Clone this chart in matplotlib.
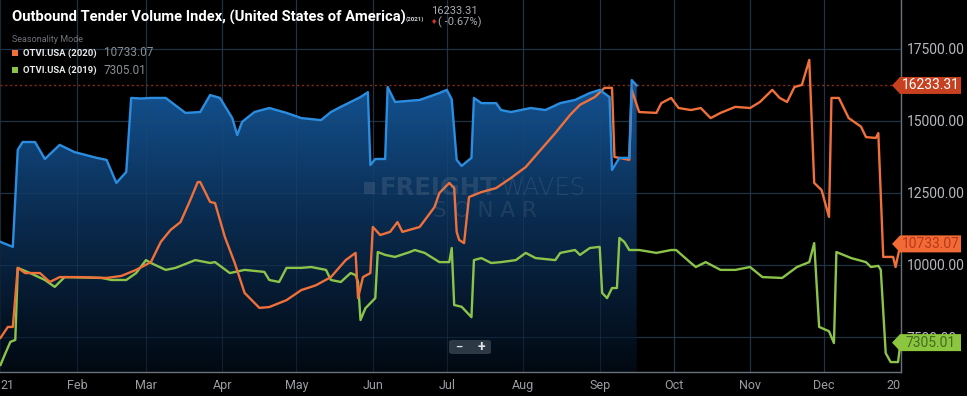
import numpy as np
import matplotlib
matplotlib.use("Agg")
import matplotlib.pyplot as plt
from matplotlib.patches import Polygon, FancyBboxPatch
from matplotlib.colors import LinearSegmentedColormap

# ---------------- data (day of year, value) ----------------
days_2021 = [0, 5, 7, 9, 14, 18, 24, 30, 39, 43, 47, 51, 53, 57, 61, 67, 75, 81, 85, 89,
             94, 96, 98, 103, 109, 116, 122, 130, 134, 138, 146, 149, 150, 152, 156, 157,
             160, 170, 178, 181, 183, 185, 187, 191, 192, 195, 201, 203, 207, 215, 221,
             227, 233, 239, 243, 247, 248, 251, 255, 256, 258]
vals_2021 = [10800, 10630, 14000, 14270, 14270, 13680, 14170, 13920, 13720, 13650, 12850,
             13230, 15800, 15780, 15800, 15800, 15280, 15310, 15900, 15800, 15100, 14510,
             14970, 15310, 15450, 15280, 15100, 15030, 15310, 15490, 15830, 16000, 13470,
             13680, 13680, 16180, 15660, 15730, 15970, 16080, 15750, 13650, 13440, 13720,
             15800, 15620, 15620, 15380, 15310, 15450, 15380, 15620, 15730, 15970, 16080,
             15830, 13300, 13720, 13720, 16420, 16233.31]

days_2020 = [0, 3, 5, 7, 10, 16, 20, 24, 32, 43, 49, 55, 61, 65, 69, 73, 77, 80, 81, 85,
             87, 91, 95, 99, 105, 109, 116, 122, 126, 128, 134, 140, 144, 145, 147, 150,
             151, 154, 158, 161, 163, 170, 176, 178, 182, 184, 185, 186, 188, 190, 195,
             201, 207, 213, 219, 225, 231, 235, 241, 245, 248, 249, 255, 256, 259, 266,
             268, 272, 275, 280, 284, 288, 292, 298, 304, 308, 313, 316, 319, 322, 325,
             328, 330, 333, 336, 337, 340, 344, 349, 351, 355, 356, 358, 362, 363, 365]
vals_2020 = [7470, 7850, 7850, 9900, 9720, 9720, 9410, 9580, 9580, 9550, 9620, 9830, 10100,
             10800, 11220, 11490, 12260, 12880, 12880, 12190, 12150, 10970, 10070, 9030,
             8510, 8540, 8780, 9130, 9240, 9300, 9580, 10170, 10420, 8850, 9580, 9720,
             11320, 11040, 11150, 11490, 11150, 11320, 12010, 12500, 12850, 12670, 11150,
             10870, 10760, 12360, 12530, 12670, 13020, 13400, 13990, 14580, 15210, 15560,
             15830, 16150, 16150, 13750, 13650, 16080, 15310, 15280, 15620, 15800, 15450,
             15380, 15450, 15100, 15280, 15490, 15450, 15660, 16080, 15800, 15660, 16180,
             16250, 17120, 12850, 12600, 11670, 15800, 15800, 15100, 14800, 14440, 14410,
             14580, 10280, 10280, 9930, 10733.07]

days_2019 = [0, 2, 4, 6, 7, 12, 18, 22, 26, 41, 45, 51, 55, 59, 61, 67, 71, 79, 85, 87, 93,
             99, 107, 109, 113, 116, 122, 126, 132, 134, 138, 142, 144, 145, 146, 148, 152,
             153, 156, 160, 166, 168, 172, 178, 182, 183, 184, 187, 191, 192, 195, 199, 203,
             209, 213, 217, 225, 227, 233, 235, 239, 243, 244, 246, 248, 250, 251, 253, 255,
             259, 266, 272, 274, 280, 282, 286, 292, 298, 304, 309, 317, 323, 328, 330, 332,
             336, 338, 339, 345, 351, 353, 356, 357, 359, 361, 364, 365]
vals_2019 = [6530, 6940, 7330, 7400, 9900, 9720, 9480, 9240, 9580, 9550, 9480, 9480, 9720,
             10170, 10070, 9830, 9900, 10170, 10070, 10100, 9720, 9830, 9760, 9480, 9410,
             9900, 9900, 9930, 9830, 9480, 9410, 9720, 9650, 9410, 8090, 8500, 8850, 10450,
             10350, 10280, 10450, 10520, 10420, 10100, 10100, 10590, 8610, 8550, 8190,
             10170, 10240, 10070, 10100, 10170, 10420, 10240, 10170, 10420, 10520, 10350,
             10590, 10630, 9030, 8850, 9200, 9200, 10940, 10800, 10520, 10520, 10420, 10520,
             10520, 10070, 9930, 10100, 9830, 9830, 9930, 9580, 9550, 9930, 10100, 10760,
             7850, 7700, 7290, 10450, 10240, 10100, 9930, 9970, 9830, 6940, 6630, 6630,
             7305.01]

month_ticks = [0, 31, 59, 90, 120, 151, 181, 212, 243, 273, 304, 334, 365]
month_labels = ["21", "Feb", "Mar", "Apr", "May", "Jun", "Jul", "Aug", "Sep", "Oct",
                "Nov", "Dec", "20"]
y_ticks = [7500, 10000, 12500, 15000, 17500]

last_2021 = 16233.31
last_2020 = 10733.07
last_2019 = 7305.01
change_pct = -0.67

# ---------------- styling ----------------
BG = "#000000"
BLUE = "#2b8de0"
ORANGE = "#f0703a"
GREEN = "#8cc44a"
GRID = "#1b2733"
W, H = 967, 396
YMIN, YMAX = 6285, 19200

plt.rcParams["font.family"] = ["Roboto", "DejaVu Sans"]
fig = plt.figure(figsize=(W / 100, H / 100), dpi=100, facecolor=BG)
ax = fig.add_axes([0, 1 - 372 / H, 901 / W, 372 / H])
ax.set_facecolor(BG)

for s in ["top", "left"]:
    ax.spines[s].set_visible(False)
for s in ["right", "bottom"]:
    ax.spines[s].set_color("#6b7178")
    ax.spines[s].set_linewidth(1)

ax.set_yticks(y_ticks)
ax.set_yticklabels([f"{v:.2f}" for v in y_ticks])
ax.yaxis.tick_right()
ax.tick_params(axis="y", length=0, pad=4, labelsize=10, labelcolor="#b5b9bd")
ax.set_xticks(month_ticks)
ax.set_xticklabels(month_labels)
ax.tick_params(axis="x", length=0, pad=5, labelsize=9, labelcolor="#9a9ea3")
xl = ax.get_xticklabels()
xl[0].set_ha("left")
xl[-1].set_ha("right")
ax.grid(True, color=GRID, linewidth=0.9, zorder=0)
ax.set_axisbelow(True)

# gradient fill under the 2021 series
cmap = LinearSegmentedColormap.from_list("g", ["#020912", "#0a2a4d", "#145596"])
grad = np.linspace(0, 1, 256).reshape(-1, 1)
im = ax.imshow(grad, extent=[days_2021[0], days_2021[-1], YMIN, 16600], origin="lower",
               aspect="auto", cmap=cmap, zorder=1, interpolation="bilinear")
verts = [(days_2021[0], YMIN)] + list(zip(days_2021, vals_2021)) + [(days_2021[-1], YMIN)]
clip = Polygon(verts, closed=True, transform=ax.transData, facecolor="none", edgecolor="none")
ax.add_patch(clip)
im.set_clip_path(clip)
ax.set_xlim(-0.2, 365.2)
ax.set_ylim(YMIN, YMAX)

# gridlines over the fill (subtle)
for yv in y_ticks:
    ax.axhline(yv, color="#2a4a6a", lw=0.8, alpha=0.35, zorder=1.5)
for xv in month_ticks[1:-1]:
    ax.axvline(xv, color="#2a4a6a", lw=0.8, alpha=0.35, zorder=1.5)

ax.axhline(last_2021, color="#8a2a1a", lw=1.0, ls=(0, (1.5, 2)), zorder=2)

ax.plot(days_2019, vals_2019, color=GREEN, lw=1.7, zorder=3, solid_joinstyle="round")
ax.plot(days_2020, vals_2020, color=ORANGE, lw=1.7, zorder=4, solid_joinstyle="round")
ax.plot(days_2021, vals_2021, color=BLUE, lw=1.7, zorder=5, solid_joinstyle="round")

# watermark
WM = "#8a96a3"
fig.text(497 / W, 1 - 188 / H, "FREIGHT", ha="right", va="center", fontsize=17.5,
         fontweight="bold", color=WM, alpha=0.2, zorder=0.5, family=["DejaVu Sans"])
fig.text(500 / W, 1 - 188 / H, "WAVES", ha="left", va="center", fontsize=17.5,
         fontweight="light", color=WM, alpha=0.2, zorder=0.5, family=["DejaVu Sans"])
fig.text(485 / W, 1 - 211 / H, "S O N A R", ha="center", va="center", fontsize=15.5,
         color=WM, alpha=0.17, zorder=0.5, family=["DejaVu Sans"])
fig.patches.append(Polygon([(364 / W, 1 - 182 / H), (375 / W, 1 - 182 / H),
                            (375 / W, 1 - 194 / H), (364 / W, 1 - 194 / H)], closed=True,
                           transform=fig.transFigure, facecolor=WM, alpha=0.2,
                           edgecolor="none", zorder=0.5))

# zoom buttons
btn = FancyBboxPatch((449 / W, 1 - 354 / H), 42 / W, 14 / H,
                     boxstyle="round,pad=0,rounding_size=0.004",
                     transform=fig.transFigure, facecolor="#2c3844", edgecolor="none", zorder=6)
fig.patches.append(btn)
fig.text(459 / W, 1 - 347 / H, "–", color="#dfe3e7", fontsize=8, ha="center", va="center",
         fontweight="bold", zorder=7)
fig.text(481 / W, 1 - 347 / H, "+", color="#dfe3e7", fontsize=10, ha="center", va="center",
         fontweight="bold", zorder=7)

# value tags on the right axis
fig.canvas.draw()
def tag(val, fc, tc):
    y = ax.transData.transform((0, val))[1]
    h = 8.5
    xt, xb, xr = 892, 900, 961
    pts = [(xt, y), (xb, y + h), (xr, y + h), (xr, y - h), (xb, y - h)]
    pts = [(px / W, py / H) for px, py in pts]
    fig.patches.append(Polygon(pts, closed=True, transform=fig.transFigure,
                               facecolor=fc, edgecolor="none", zorder=7))
    fig.text(931 / W, y / H, f"{val:.2f}", color=tc, fontsize=10, ha="center",
             va="center", zorder=8)

tag(last_2021, "#c7401f", "#ffffff")
tag(last_2020, "#f26a35", "#b8381a")
tag(last_2019, "#8cc63f", "#3f6b22")

# title & legend
fig.text(12 / W, 1 - 17 / H, "Outbound Tender Volume Index, (United States of America)",
         color="#ffffff", fontsize=10.6, fontweight="bold", va="center", ha="left", zorder=9)
fig.text(406 / W, 1 - 19 / H, "(2021)", color="#cfd3d7", fontsize=4.5, va="center",
         ha="left", fontweight="bold", zorder=9)
fig.text(431 / W, 1 - 11 / H, f"{last_2021:.2f}", color="#a8acb0", fontsize=8, va="center",
         ha="left", zorder=9)
fig.text(431 / W, 1 - 22 / H, "♦", color="#e03030", fontsize=5, va="center", ha="left",
         family=["DejaVu Sans"], zorder=9)
fig.text(438 / W, 1 - 22 / H, f"( {change_pct:.2f}%)", color="#a8acb0", fontsize=8,
         va="center", ha="left", zorder=9)
fig.text(12 / W, 1 - 40 / H, "Seasonality Mode", color="#6e7378", fontsize=6.5,
         va="center", ha="left", zorder=9)
for i, (lab, val, col) in enumerate([("OTVI.USA (2020)", last_2020, ORANGE),
                                     ("OTVI.USA (2019)", last_2019, GREEN)]):
    yy = 1 - (53 + 17 * i) / H
    fig.patches.append(Polygon([(12 / W, yy - 3 / H), (18 / W, yy - 3 / H),
                                (18 / W, yy + 3 / H), (12 / W, yy + 3 / H)],
                               closed=True, transform=fig.transFigure, facecolor=col,
                               edgecolor="none", zorder=9))
    fig.text(23 / W, yy, lab, color="#e8eaec", fontsize=6.8, fontweight="bold", va="center",
             ha="left", zorder=9)
    fig.text(104 / W, yy, f"{val:.2f}", color="#8a8e92", fontsize=8.5, va="center",
             ha="left", zorder=9)

fig.savefig("out.png", dpi=100, facecolor=BG)
